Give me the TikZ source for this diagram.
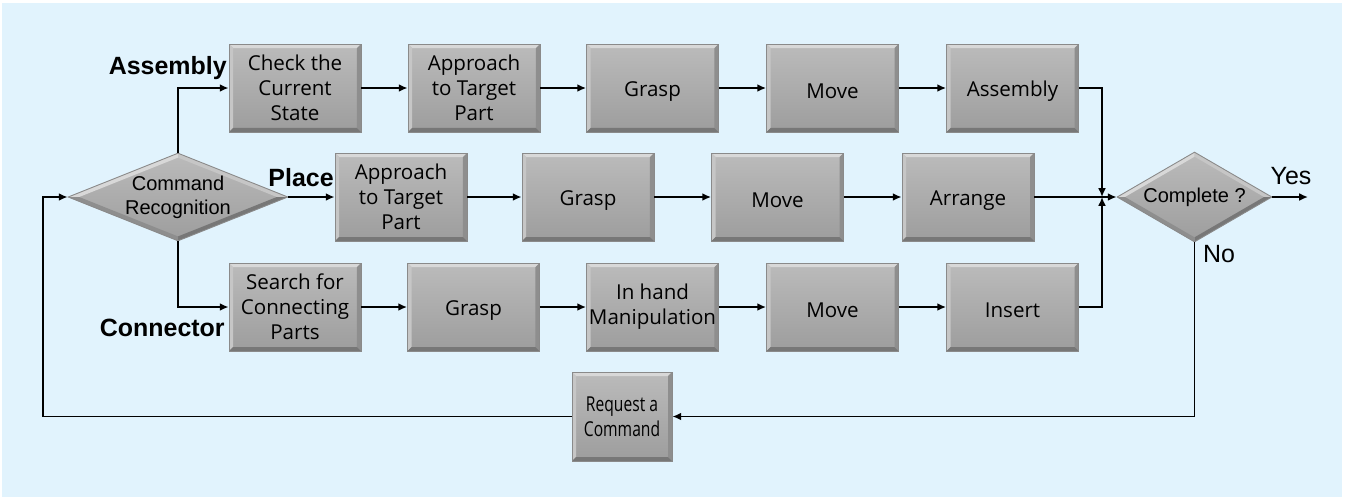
\documentclass[tikz,border=0pt]{standalone}
\usepackage{fontspec}
\setmainfont{Open Sans}
\newfontfamily\arialfont{Liberation Sans}
\newfontfamily\narrowfont[FakeStretch=0.76]{Open Sans}
\usepackage{tikz}
\usetikzlibrary{shapes.geometric,calc,arrows.meta}

\definecolor{bgblue}{HTML}{E1F3FD}
\definecolor{boxtop}{HTML}{BBBBBB}
\definecolor{boxbot}{HTML}{9D9D9D}
\definecolor{boxline}{HTML}{8A8A8A}
\definecolor{bevlight}{HTML}{D8D8D8}
\definecolor{bevleft}{HTML}{C6C6C6}
\definecolor{bevright}{HTML}{8E8E8E}
\definecolor{bevdark}{HTML}{777777}

\def\bw{0.08cm}

\tikzset{
  stepbox/.style={rectangle, minimum width=2.64cm, minimum height=1.76cm,
    inner sep=1pt, align=center, top color=boxtop, bottom color=boxbot,
    draw=boxline, line width=0.5pt,
    font=\fontsize{11.7}{14.2}\selectfont,
    execute at begin node={\rule{0pt}{12pt}},
    path picture={
      \coordinate (bbnw) at (path picture bounding box.north west);
      \coordinate (bbne) at (path picture bounding box.north east);
      \coordinate (bbse) at (path picture bounding box.south east);
      \coordinate (bbsw) at (path picture bounding box.south west);
      \coordinate (ibnw) at ([shift={(\bw,-\bw)}]bbnw);
      \coordinate (ibne) at ([shift={(-\bw,-\bw)}]bbne);
      \coordinate (ibse) at ([shift={(-\bw,\bw)}]bbse);
      \coordinate (ibsw) at ([shift={(\bw,\bw)}]bbsw);
      \fill[bevlight] (bbnw) -- (bbne) -- (ibne) -- (ibnw) -- cycle;
      \fill[bevleft] (bbnw) -- (ibnw) -- (ibsw) -- (bbsw) -- cycle;
      \fill[bevright] (bbne) -- (bbse) -- (ibse) -- (ibne) -- cycle;
      \fill[bevdark] (bbsw) -- (ibsw) -- (ibse) -- (bbse) -- cycle;
    }},
  decide/.style={diamond, inner sep=0pt, top color=boxtop, bottom color=boxbot,
    draw=boxline, line width=0.5pt,
    path picture={
      \coordinate (dc) at (path picture bounding box.center);
      \coordinate (dn) at (path picture bounding box.north);
      \coordinate (de) at (path picture bounding box.east);
      \coordinate (ds) at (path picture bounding box.south);
      \coordinate (dw) at (path picture bounding box.west);
      \fill[bevlight] (dw) -- (dn) -- ($(dc)!0.9!(dn)$) -- ($(dc)!0.9!(dw)$) -- cycle;
      \fill[bevleft] (dn) -- (de) -- ($(dc)!0.9!(de)$) -- ($(dc)!0.9!(dn)$) -- cycle;
      \fill[bevdark] (de) -- (ds) -- ($(dc)!0.9!(ds)$) -- ($(dc)!0.9!(de)$) -- cycle;
      \fill[bevright] (ds) -- (dw) -- ($(dc)!0.9!(dw)$) -- ($(dc)!0.9!(ds)$) -- cycle;
    }},
  decidetext/.style={align=center, font=\arialfont\fontsize{11.4}{13.7}\selectfont},
  branch/.style={font=\arialfont\bfseries\fontsize{14.2}{16}\selectfont},
  answer/.style={font=\arialfont\fontsize{14.2}{16}\selectfont},
  flow/.style={line width=1.1pt, -{Latex[length=5pt,width=4.5pt]}}
}

\begin{document}
\begin{tikzpicture}[x=0.02cm,y=-0.02cm]
  \useasboundingbox (0,0) rectangle (1355,498);
  \fill[bgblue] (2,3) rectangle (1342,497);

  % decisions
  \node[decide, minimum width=4.4cm, minimum height=1.76cm,
    label={[decidetext]center:Command\\Recognition}] (cr) at (178,197) {};
  \node[decide, minimum width=3.1cm, minimum height=1.8cm,
    label={[decidetext]center:Complete ?}] (cpl) at (1194.5,197) {};

  % assembly row
  \node[stepbox] (check) at (295,88) {Check the\\Current\\State};
  \node[stepbox] (app1) at (474,88) {Approach\\to Target\\Part};
  \node[stepbox] (grasp1) at (652.5,88) {Grasp};
  \node[stepbox] (move1) at (832.5,88) {Move};
  \node[stepbox] (asm) at (1012.5,88) {Assembly};

  % place row
  \node[stepbox] (app2) at (401,197) {Approach\\to Target\\Part};
  \node[stepbox] (grasp2) at (588,197) {Grasp};
  \node[stepbox] (move2) at (777.5,197) {Move};
  \node[stepbox] (arr) at (968,197) {Arrange};

  % connector row
  \node[stepbox] (search) at (295,307) {Search for\\Connecting\\Parts};
  \node[stepbox] (grasp3) at (473.5,307) {Grasp};
  \node[stepbox] (inhand) at (652.5,307) {In hand\\Manipulation};
  \node[stepbox] (move3) at (832.5,307) {Move};
  \node[stepbox] (ins) at (1012.5,307) {Insert};

  \node[stepbox, minimum width=2cm, minimum height=1.78cm,
    font=\narrowfont\fontsize{11.7}{14.2}\selectfont] (req) at (622,416.5) {Request a\\Command};

  % branch labels
  \node[branch, anchor=east, inner sep=0pt] at (227,68) {Assembly};
  \node[branch, anchor=east, inner sep=0pt] at (334,178) {Place};
  \node[branch, anchor=east, inner sep=0pt] at (225,328) {Connector};
  \node[answer] at (1291,176) {Yes};
  \node[answer] at (1219,254) {No};

  \coordinate (merge) at (1102,197);
  \coordinate (yesend) at (1308,197);
  \coordinate (loop) at (43,197);

  \draw[flow] (cr.north) |- (check.west);
  \draw[flow] (cr.east) -- (app2.west);
  \draw[flow] (cr.south) |- (search.west);

  \draw[flow] (check) -- (app1);
  \draw[flow] (app1) -- (grasp1);
  \draw[flow] (grasp1) -- (move1);
  \draw[flow] (move1) -- (asm);

  \draw[flow] (app2) -- (grasp2);
  \draw[flow] (grasp2) -- (move2);
  \draw[flow] (move2) -- (arr);

  \draw[flow] (search) -- (grasp3);
  \draw[flow] (grasp3) -- (inhand);
  \draw[flow] (inhand) -- (move3);
  \draw[flow] (move3) -- (ins);

  \draw[flow] (asm.east) -| (merge);
  \draw[flow] (ins.east) -| (merge);
  \draw[flow] (arr.east) -- (cpl.west);
  \draw[flow] (cpl.east) -- (yesend);
  \draw[flow] (cpl.south) |- (req.east);
  \draw[flow] (req.west) -| (loop) -- (cr.west);
\end{tikzpicture}
\end{document}
